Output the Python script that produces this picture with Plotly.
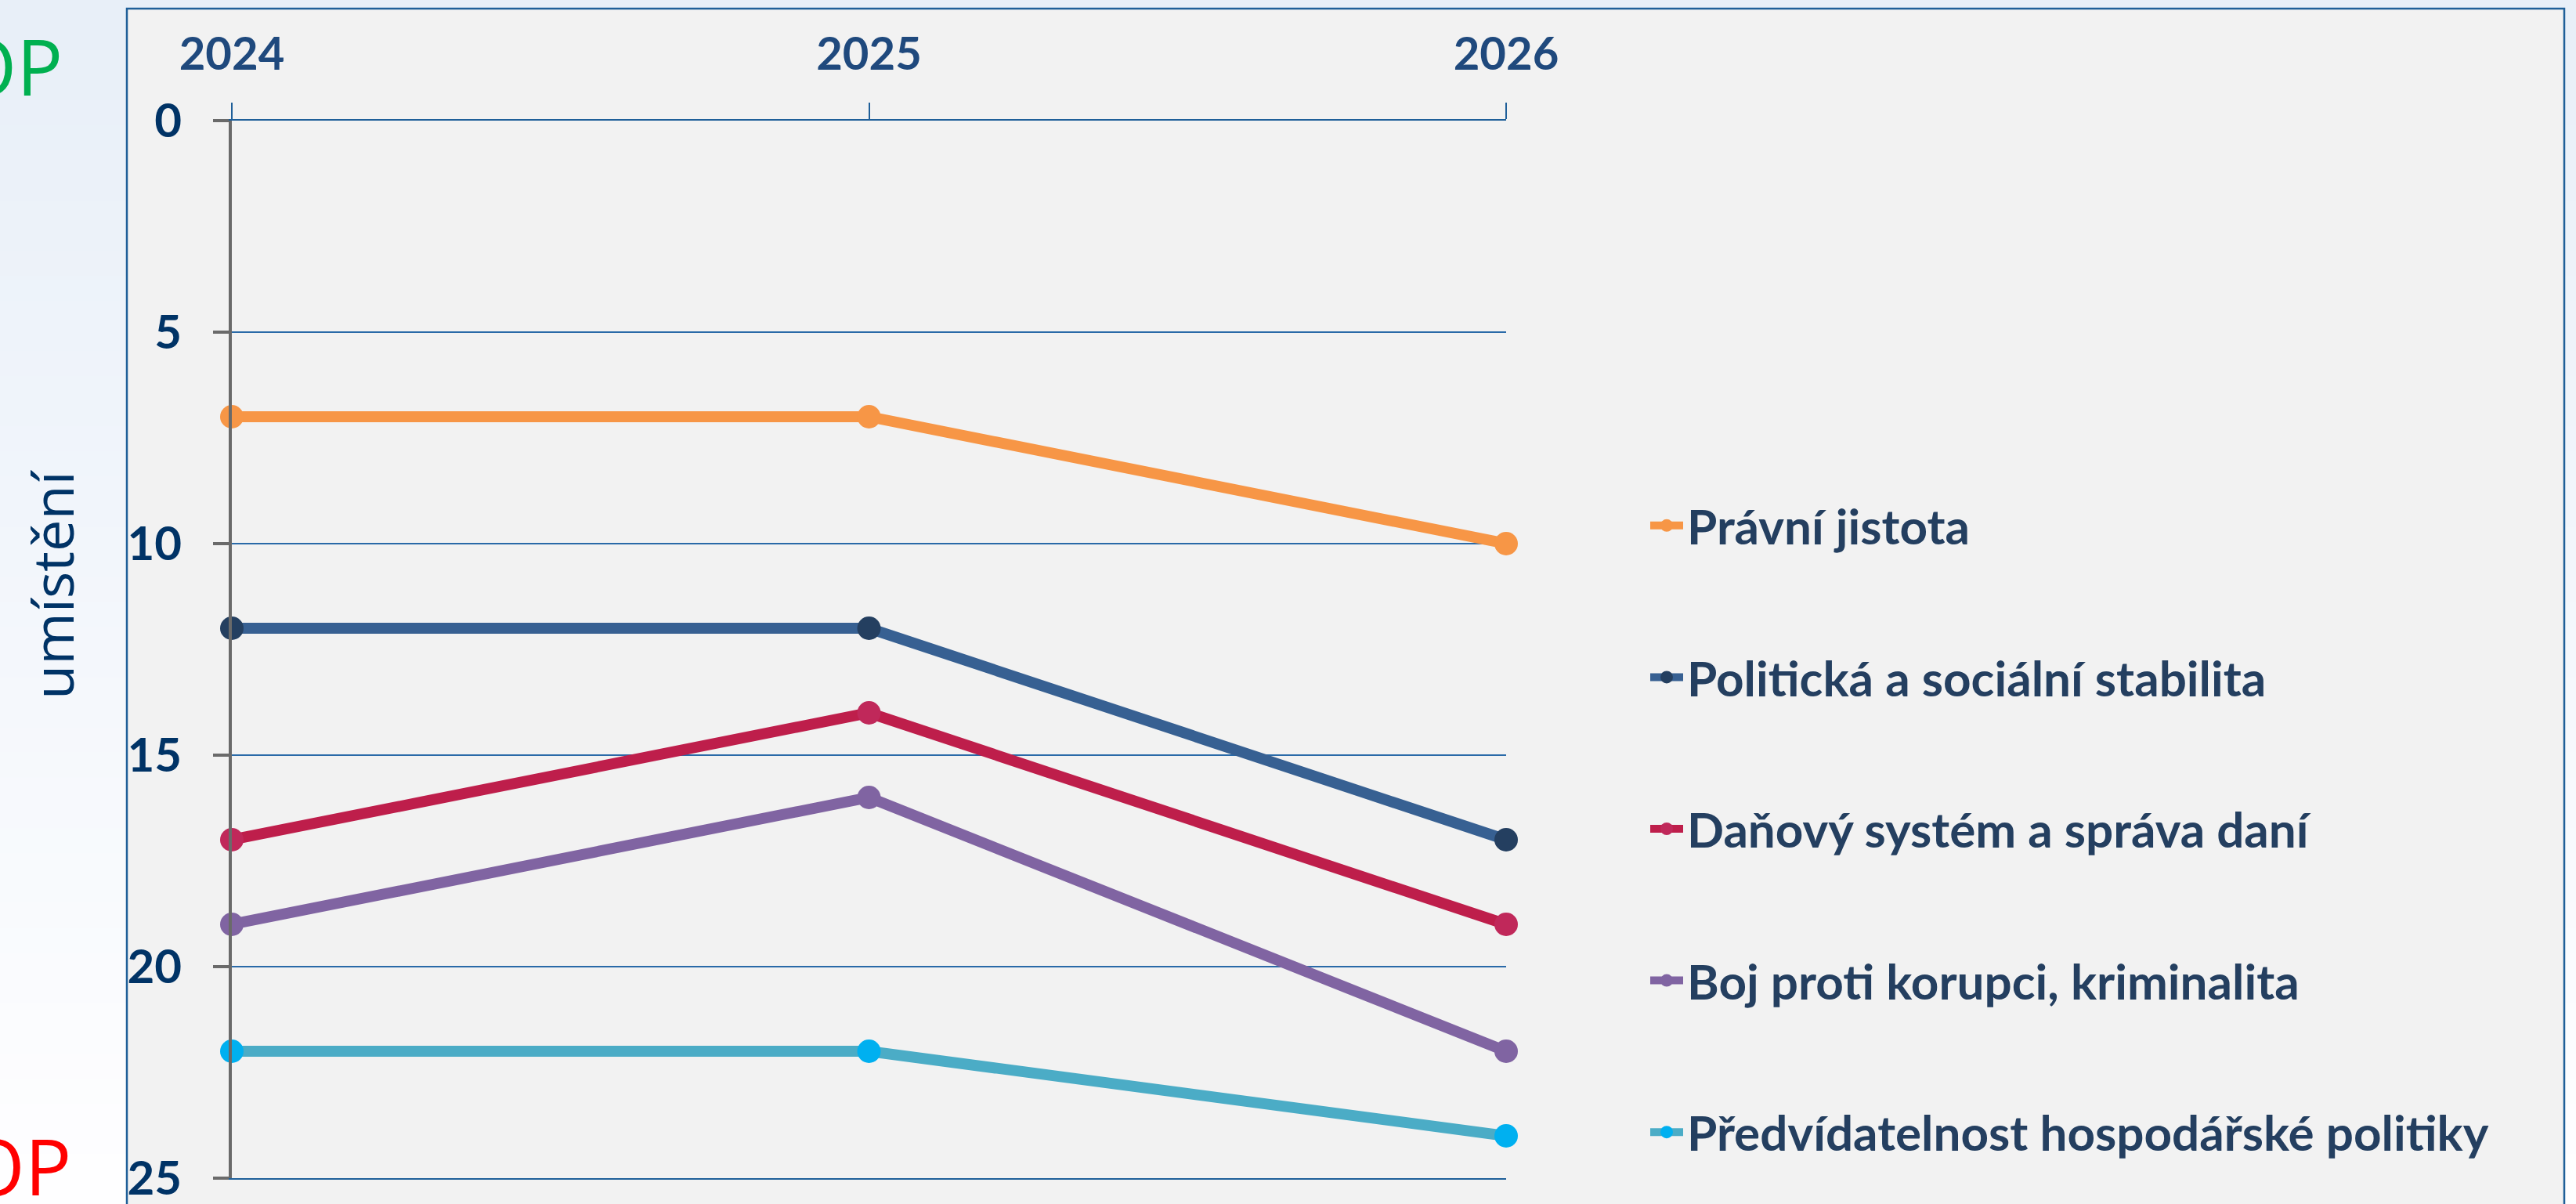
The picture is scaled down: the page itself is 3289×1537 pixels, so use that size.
import plotly.graph_objects as go

# ---------------- data ----------------
years = [2024, 2025, 2026]
year_labels = ["2024", "2025", "2026"]
series_names = [
    "Právní jistota",
    "Politická a sociální stabilita",
    "Daňový systém a správa daní",
    "Boj proti korupci, kriminalita",
    "Předvídatelnost hospodářské politiky",
]
pravni_jistota = [7, 7, 10]
politicka_stabilita = [12, 12, 17]
danovy_system = [17, 14, 19]
boj_korupce = [19, 16, 22]
predvidatelnost = [22, 22, 24]
y_ticks = [0, 5, 10, 15, 20, 25]

series_values = [pravni_jistota, politicka_stabilita, danovy_system, boj_korupce, predvidatelnost]
line_colors = ["#f79646", "#376092", "#be1e4b", "#8064a2", "#4bacc6"]
marker_colors = ["#f79646", "#243f60", "#c0285a", "#8064a2", "#00b0f0"]

# ---------------- layout geometry ----------------
W, H = 3289, 1537
X0, X1 = 296, 1923     # pixel x of 2024 / 2026
Y0, Y1 = 154, 1504     # pixel y of rank 0 / 25


def px_x(p):
    return (p - X0) / (X1 - X0)


def px_y(p):
    return (Y1 - p) / (Y1 - Y0)


fig = go.Figure()
for name, vals, lc, mc in zip(series_names, series_values, line_colors, marker_colors):
    fig.add_trace(go.Scatter(
        x=years, y=vals, name=name, mode="lines+markers",
        line=dict(color=lc, width=14),
        marker=dict(color=mc, size=30, line=dict(width=0)),
        cliponaxis=False, legendgroup=name,
    ))

shapes = []
# background gradient (light blue at top -> white at bottom)
N = 48
c_top = (232, 239, 248)
c_bot = (254, 254, 255)
for i in range(N):
    t = i / (N - 1)
    col = tuple(round(a + (b - a) * t) for a, b in zip(c_top, c_bot))
    shapes.append(dict(
        type="rect", xref="paper", yref="paper", layer="below",
        x0=px_x(-20), x1=px_x(W + 20),
        y0=px_y(H * (i + 1) / N + 1), y1=px_y(H * i / N - (20 if i == 0 else 0)),
        fillcolor="rgb(%d,%d,%d)" % col, line=dict(width=0),
    ))
# chart panel
shapes.append(dict(
    type="rect", xref="paper", yref="paper", layer="below",
    x0=px_x(162), x1=px_x(3274), y0=px_y(1580), y1=px_y(11),
    fillcolor="#f2f2f2", line=dict(color="#1f5f99", width=2.5),
))

annotations = [
    dict(text="TOP", xref="paper", yref="paper", x=px_x(82), y=px_y(84),
         xanchor="right", yanchor="middle", showarrow=False,
         font=dict(family="Open Sans", size=98, color="#00b050")),
    dict(text="FLOP", xref="paper", yref="paper", x=px_x(93), y=px_y(1487),
         xanchor="right", yanchor="middle", showarrow=False,
         font=dict(family="Open Sans", size=99, color="#ff0000")),
    dict(text="umístění", xref="paper", yref="paper", x=px_x(66), y=px_y(746),
         xanchor="center", yanchor="middle", textangle=-90, showarrow=False,
         font=dict(family="Open Sans", size=72, color="#003366")),
]

fig.update_layout(
    width=W, height=H,
    margin=dict(l=X0, r=W - X1, t=Y0, b=H - Y1, pad=0, autoexpand=False),
    paper_bgcolor="#f4f7fc",
    plot_bgcolor="rgba(0,0,0,0)",
    shapes=shapes,
    annotations=annotations,
    showlegend=True,
    legend=dict(
        x=px_x(2102), xanchor="left",
        y=px_y(1058), yanchor="middle",
        bgcolor="rgba(0,0,0,0)", borderwidth=0,
        traceorder="grouped", tracegroupgap=110,
        font=dict(family="Lato", size=62, color="#243f60", weight="bold"),
        itemsizing="trace", itemwidth=42,
    ),
    xaxis=dict(
        side="top", range=[2024, 2026], tickvals=years, ticktext=year_labels,
        showgrid=False, zeroline=False,
        showline=True, mirror=True, linecolor="#1f5f99", linewidth=2,
        ticks="outside", ticklen=21, tickwidth=2, tickcolor="#1f5f99",
        tickfont=dict(family="Lato", size=58, color="#1f497d", weight="bold"),
        ticklabelstandoff=19,
    ),
    yaxis=dict(
        range=[25, 0], tickvals=y_ticks,
        showgrid=True, gridcolor="#2a6aa8", gridwidth=2,
        zeroline=False,
        showline=True, linecolor="#6a6a6a", linewidth=4,
        ticks="outside", ticklen=20, tickwidth=4, tickcolor="#6a6a6a",
        tickfont=dict(family="Lato", size=60, color="#003366", weight="bold"),
        ticklabelstandoff=28, ticklabeloverflow="allow",
    ),
)

fig.write_html("out.html", config={"displayModeBar": False},
               post_script="document.body.style.margin='0';document.body.style.overflow='hidden';")
